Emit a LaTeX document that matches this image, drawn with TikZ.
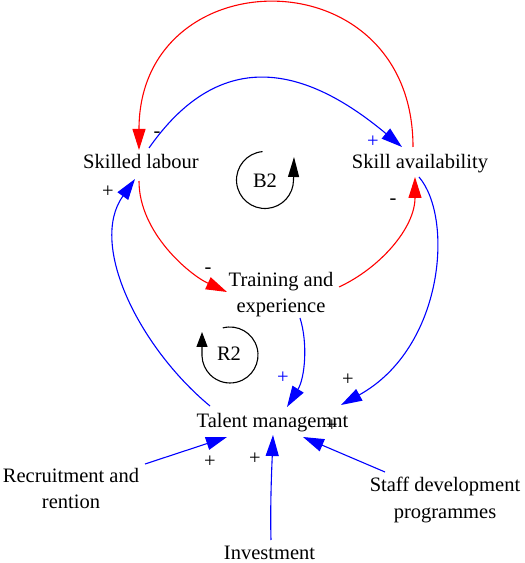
\documentclass[tikz,border=0pt]{standalone}
\usepackage{fontspec}
\setmainfont{Liberation Serif}
\usetikzlibrary{arrows.meta,calc}
\begin{document}
\begin{tikzpicture}[x=1pt,y=1pt,
  lbl/.style={font=\fontsize{20.5}{26.7}\selectfont, inner sep=0pt, align=center},
  sgn/.style={font=\fontsize{20.5}{24}\selectfont, inner sep=0pt},
  link/.style={line width=1.1pt, -{Triangle[length=21pt,width=13pt]}},
  loopline/.style={line width=1.1pt, black},
]
\useasboundingbox (0,0) rectangle (525,563);

% variables
\node[lbl, anchor=base] (SL) at (141,394) {Skilled labour};
\node[lbl, anchor=base] (SA) at (420,394) {Skill availability};
\node[lbl] (TE) at (281,268.4) {Training and\\experience};
\node[lbl, anchor=base] (TM) at (272.5,135) {Talent managemnt};
\node[lbl] (RR) at (71,74.4) {Recruitment and\\rention};
\node[lbl, anchor=base] (INV) at (269.5,3) {Investment};
\node[lbl] (SD) at (445,62.7) {Staff development\\programmes};

% loop markers
\node[lbl] (B2) at (265,382.5) {B2};
\node[lbl] (R2) at (229,209) {R2};
\draw[loopline, -{Triangle[length=20pt,width=11pt]}]
  ($(B2)+(0,0.5)+(95:28.5)$) arc[start angle=95, end angle=360, radius=28.5] -- ++(0.5,23);
\draw[loopline, -{Triangle[length=15pt,width=11pt]}]
  ($(R2)+(1,-1)+(105:28)$) arc[start angle=105, end angle=-178, radius=28] -- ++(0,24);

% connectors
\draw[red, link] ($(SA.base)+(-7,22)$) .. controls (413,609) and (139,606) .. ($(SL.base)+(-2,19)$);
\draw[blue, link] ($(SL.base)+(8,21)$) .. controls (227,526.5) and (317,487) .. ($(SA.base)+(-18,22)$);
\draw[red, link] ($(SL.base)+(-2,-12)$) .. controls (139,330) and (190,288) .. ($(TE.center)+(-54,2.6)$);
\draw[red, link] ($(TE.center)+(58,7.6)$) .. controls (380,295) and (415,335) .. ($(SA.base)+(-5,-8)$);
\draw[blue, link] ($(SA.base)+(-1,-8)$) .. controls (454,345) and (444,215) .. ($(TM.base)+(68.5,23)$);
\draw[blue, link] ($(TE.center)+(19,-23.4)$) .. controls (308,220) and (305,185) .. ($(TM.base)+(14.5,21)$);
\draw[blue, link] ($(TM.base)+(-62.5,22)$) .. controls (140,215) and (88,318) .. ($(SL.base)+(-6,-10)$);
\draw[blue, link] ($(RR.center)+(74,24.6)$) -- ($(TM.base)+(-45.5,-9)$);
\draw[blue, link] ($(INV.base)+(1.5,20)$) .. controls (270,60) and (272,100) .. ($(TM.base)+(0.5,-7)$);
\draw[blue, link] ($(SD.center)+(-60,28.3)$) -- ($(TM.base)+(30.5,-9)$);

% polarity signs
\node[sgn] (m1) at (157,428) {-};
\node[sgn, blue] (p1) at (373,421) {+};
\node[sgn] (p2) at (108,371) {+};
\node[sgn] (m2) at (208,292) {-};
\node[sgn] (m3) at (393,361) {-};
\node[sgn, blue] (p3) at (283,185) {+};
\node[sgn] (p4) at (348,183) {+};
\node[sgn] (p5) at (210,101) {+};
\node[sgn] (p6) at (255,104) {+};
\node[sgn] (p7) at (332,137) {+};
\end{tikzpicture}
\end{document}
